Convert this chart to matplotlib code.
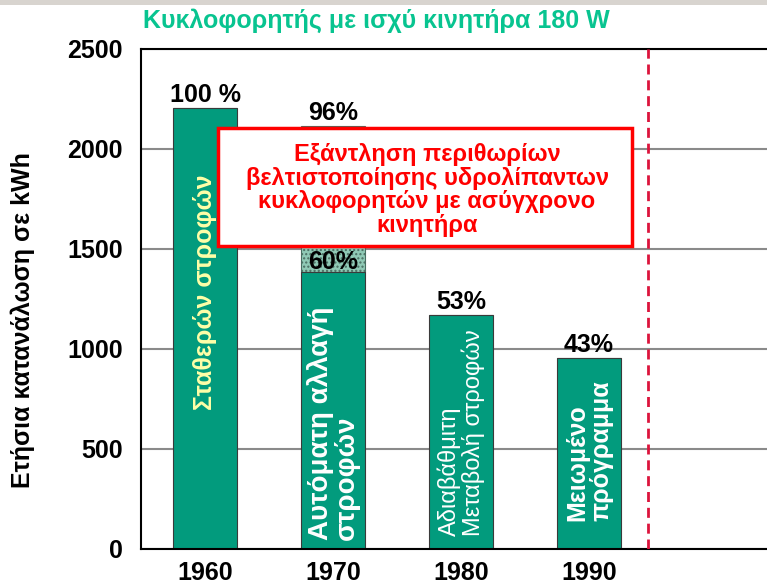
import matplotlib.pyplot as plt
from matplotlib.patches import Rectangle

plt.rcParams['font.family'] = ['Liberation Sans', 'DejaVu Sans']

# data
years = ['1960', '1970', '1980', '1990']
total = [2205, 2115, 1170, 955]
solid = [2205, 1385, 1170, 955]
pct_labels = ['100 %', '96%', '53%', '43%']
inner_text = ['Σταθερών στροφών', 'Αυτόματη αλλαγή\nστροφών',
              'Αδιαβάθμιτη\nΜεταβολή στροφών', 'Μειωμένο\nπρόγραμμα']
inner_y = [694, 45, 65, 140]
inner_size = [18, 20, 17, 18]
inner_weight = ['bold', 'bold', 'normal', 'bold']
inner_color = ['#FFFFA8', 'white', 'white', 'white']
yticks = [0, 500, 1000, 1500, 2000, 2500]

W, H = 767, 586
fig = plt.figure(figsize=(W / 100, H / 100), dpi=100)
ax = fig.add_axes([141 / W, 37 / H, (W - 141) / W + 0.01, 500 / H])

x = list(range(len(years)))
green = '#029B7D'
# textured part (top of the 1970 bar)
ax.bar(x, [t - s for t, s in zip(total, solid)], bottom=solid, width=0.5,
       color='#8FC9B5', edgecolor='#4a6e62', hatch='....', linewidth=0.8, zorder=2)
ax.bar(x, solid, width=0.5, color=green, edgecolor='#3a3a3a', linewidth=0.8, zorder=2)

for i in x:
    ax.text(i, total[i] + 5, pct_labels[i], ha='center', va='bottom',
            fontsize=18, fontweight='bold', zorder=4)
    ax.text(i, inner_y[i], inner_text[i], rotation=90, ha='center', va='bottom',
            multialignment='left', fontsize=inner_size[i], color=inner_color[i],
            fontweight=inner_weight[i], linespacing=1.0, zorder=4)
ax.text(1, 1375, '60%', ha='center', va='bottom', fontsize=18, fontweight='bold', zorder=4)

ax.set_xlim(-0.5, 4.45)
ax.set_ylim(0, 2500)
ax.set_yticks(yticks)
ax.set_yticklabels([str(v) for v in yticks], fontsize=18, fontweight='bold')
ax.set_xticks(x)
ax.set_xticklabels(years, fontsize=18, fontweight='bold')
ax.tick_params(length=0)
ax.tick_params(axis='y', pad=13)
ax.tick_params(axis='x', pad=9)
ax.yaxis.grid(True, color='#8a8a8a', linewidth=1.5, zorder=0)
ax.set_axisbelow(True)
for s in ['top', 'left', 'bottom']:
    ax.spines[s].set_linewidth(1.5)
ax.spines['right'].set_visible(False)

ax.axvline(3.46, color='#DC143C', linestyle=(0, (3.6, 2.1)), linewidth=2, zorder=3)

fig.text(23 / W, 1 - 320 / H, 'Ετήσια κατανάλωση σε kWh', rotation=90, ha='center',
         va='center', fontsize=18, fontweight='bold')

fig.text(376 / W, 1 - 21 / H, 'Κυκλοφορητής με ισχύ κινητήρα 180 W', ha='center',
         va='center', fontsize=18, fontweight='bold', color='#08C490')

# annotation box
box = Rectangle((218 / W, 1 - 246 / H), (632 - 218) / W, (246 - 128) / H,
                transform=fig.transFigure, facecolor='white', edgecolor='#FF0000',
                linewidth=2.5, zorder=5)
fig.patches.append(box)
fig.text(427 / W, 1 - 190 / H,
         'Εξάντληση περιθωρίων\nβελτιστοποίησης υδρολίπαντων\nκυκλοφορητών με ασύγχρονο\nκινητήρα',
         ha='center', va='center', fontsize=17, fontweight='bold', color='#FF0000',
         linespacing=1.05, zorder=6)

fig.patches.append(Rectangle((0, 1 - 5 / H), 1, 5 / H, transform=fig.transFigure,
                             facecolor='#D8D4CF', edgecolor='none'))

fig.savefig('out.png', dpi=100)
